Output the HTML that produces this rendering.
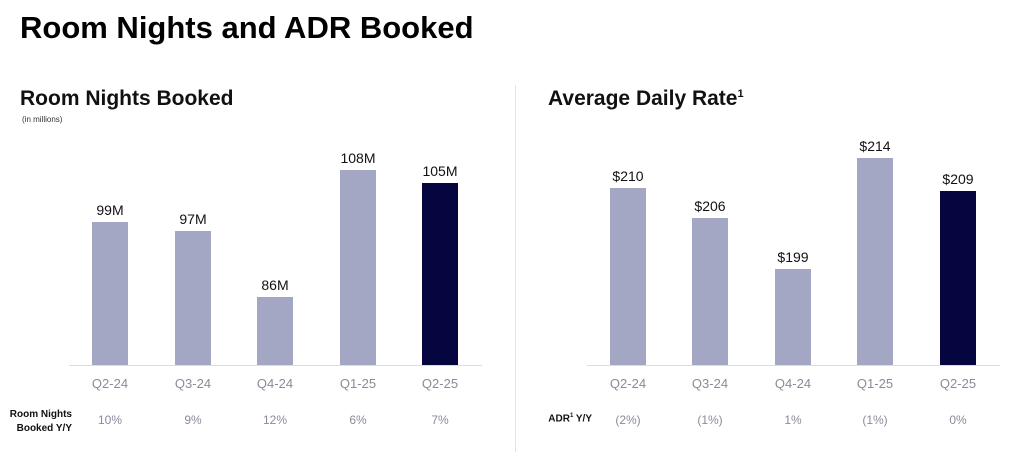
<!DOCTYPE html>
<html><head><style>
body{margin:0;width:1024px;height:452px;background:#fff;font-family:"Liberation Sans",sans-serif;position:relative;overflow:hidden}
div{position:absolute}
.bar{background:#a3a7c4}
.dk{background:#05063f}
.v{font-size:14px;color:#111;width:70px;text-align:center}
.q{font-size:13px;color:#8a8a9a;width:70px;text-align:center}
.p{font-size:12px;color:#8a8a9a;width:70px;text-align:center}
</style></head><body>
<div style="left:20px;top:10px;font-size:31px;font-weight:bold;color:#000">Room Nights and ADR Booked</div>
<div style="left:20px;top:87px;font-size:21px;font-weight:bold;color:#111">Room Nights Booked</div>
<div style="left:22px;top:115px;font-size:8px;color:#333">(in millions)</div>
<div style="left:548px;top:87px;font-size:21px;font-weight:bold;color:#111">Average Daily Rate<sup style="font-size:11px">1</sup></div>
<div style="left:515px;top:85px;width:1px;height:367px;background:#e3e3e3"></div>
<div style="left:69px;top:365px;width:413px;height:1px;background:#ddd"></div>
<div style="left:587px;top:365px;width:413px;height:1px;background:#ddd"></div>

<div class="bar" style="left:92px;top:222px;width:36px;height:143px"></div>
<div class="bar" style="left:175px;top:231px;width:36px;height:134px"></div>
<div class="bar" style="left:257px;top:297px;width:36px;height:68px"></div>
<div class="bar" style="left:340px;top:170px;width:36px;height:195px"></div>
<div class="dk" style="left:422px;top:183px;width:36px;height:182px"></div>
<div class="v" style="left:75px;top:202px">99M</div>
<div class="v" style="left:158px;top:211px">97M</div>
<div class="v" style="left:240px;top:277px">86M</div>
<div class="v" style="left:323px;top:150px">108M</div>
<div class="v" style="left:405px;top:163px">105M</div>

<div class="bar" style="left:610px;top:188px;width:36px;height:177px"></div>
<div class="bar" style="left:692px;top:218px;width:36px;height:147px"></div>
<div class="bar" style="left:775px;top:269px;width:36px;height:96px"></div>
<div class="bar" style="left:857px;top:158px;width:36px;height:207px"></div>
<div class="dk" style="left:940px;top:191px;width:36px;height:174px"></div>
<div class="v" style="left:593px;top:168px">$210</div>
<div class="v" style="left:675px;top:198px">$206</div>
<div class="v" style="left:758px;top:249px">$199</div>
<div class="v" style="left:840px;top:138px">$214</div>
<div class="v" style="left:923px;top:171px">$209</div>

<div class="q" style="left:75px;top:376px">Q2-24</div>
<div class="q" style="left:158px;top:376px">Q3-24</div>
<div class="q" style="left:240px;top:376px">Q4-24</div>
<div class="q" style="left:323px;top:376px">Q1-25</div>
<div class="q" style="left:405px;top:376px">Q2-25</div>
<div class="q" style="left:593px;top:376px">Q2-24</div>
<div class="q" style="left:675px;top:376px">Q3-24</div>
<div class="q" style="left:758px;top:376px">Q4-24</div>
<div class="q" style="left:840px;top:376px">Q1-25</div>
<div class="q" style="left:923px;top:376px">Q2-25</div>

<div style="left:0px;top:408px;width:72px;text-align:right;font-size:10px;font-weight:bold;color:#111;line-height:14px">Room Nights<br>Booked Y/Y</div>
<div class="p" style="left:75px;top:413px">10%</div>
<div class="p" style="left:158px;top:413px">9%</div>
<div class="p" style="left:240px;top:413px">12%</div>
<div class="p" style="left:323px;top:413px">6%</div>
<div class="p" style="left:405px;top:413px">7%</div>
<div style="left:530px;top:413px;width:62px;text-align:right;font-size:10px;font-weight:bold;color:#111">ADR<sup style="font-size:6px">1</sup> Y/Y</div>
<div class="p" style="left:593px;top:413px">(2%)</div>
<div class="p" style="left:675px;top:413px">(1%)</div>
<div class="p" style="left:758px;top:413px">1%</div>
<div class="p" style="left:840px;top:413px">(1%)</div>
<div class="p" style="left:923px;top:413px">0%</div>
</body></html>
